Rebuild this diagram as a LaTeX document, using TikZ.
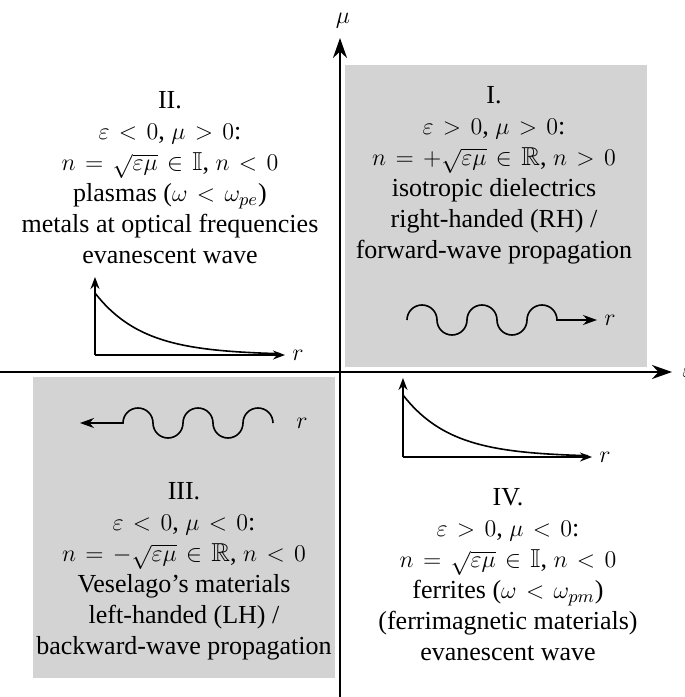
\documentclass[tikz,border=0pt]{standalone}
\usepackage{amsmath,amssymb}
\usepackage{fontspec}
\setmainfont{Liberation Serif}
\usepackage{xcolor}
\usetikzlibrary{arrows.meta}
\definecolor{Shade}{HTML}{D3D3D3}

\begin{document}
\begin{tikzpicture}[x=0.5pt,y=0.5pt,
  quadtext/.style={align=center,font=\fontsize{13}{15.5}\selectfont,inner sep=0pt},
  mainaxis/.style={-{Stealth[length=10pt,width=7pt]},line width=1.3pt},
  smallaxis/.style={-{Stealth[length=6pt,width=4.5pt]},line width=0.8pt},
  wave/.style={line width=0.8pt}]
  \thickmuskip=7mu plus 3mu\medmuskip=5mu plus 2mu
  \useasboundingbox (-340,-325) rectangle (345,372);
  % shaded quadrants I and III
  \fill[Shade] (5,5) rectangle (307,307);
  \fill[Shade] (-307,-5) rectangle (-5,-306);
  % main axes
  \coordinate (west) at (-340,0);
  \coordinate (east) at (332,0);
  \coordinate (south) at (0,-325);
  \coordinate (north) at (0,334);
  \draw[mainaxis] (west) -- (east);
  \draw[mainaxis] (south) -- (north);
  \node[quadtext,anchor=south] (mu) at (3,343) {$\mu$};
  \node[quadtext,anchor=west] (eps) at (342,0) {$\varepsilon$};
  % quadrant texts
  \node[quadtext] (qI) at (154,197) {I.\\
    $\varepsilon>0$, $\mu>0$:\\
    $n=+\sqrt{\varepsilon\mu}\in\mathbb{R}$, $n>0$\\
    isotropic dielectrics\\
    right-handed (RH) /\\
    forward-wave propagation};
  \node[quadtext] (qII) at (-170,194) {II.\\
    $\varepsilon<0$, $\mu>0$:\\
    $n=\sqrt{\varepsilon\mu}\in\mathbb{I}$, $n<0$\\
    plasmas ($\omega<\omega_{pe}$)\\
    metals at optical frequencies\\
    evanescent wave};
  \node[quadtext] (qIII) at (-156,-199) {III.\\
    $\varepsilon<0$, $\mu<0$:\\
    $n=-\sqrt{\varepsilon\mu}\in\mathbb{R}$, $n<0$\\
    Veselago's materials\\
    left-handed (LH) /\\
    backward-wave propagation};
  \node[quadtext] (qIV) at (168,-203) {IV.\\
    $\varepsilon>0$, $\mu<0$:\\
    $n=\sqrt{\varepsilon\mu}\in\mathbb{I}$, $n<0$\\
    ferrites ($\omega<\omega_{pm}$)\\
    (ferrimagnetic materials)\\
    evanescent wave};
  % forward wave (I)
  \draw[wave,-{Stealth[length=7pt,width=5pt]}] (67,52)
    arc[start angle=180,end angle=0,radius=15]
    arc[start angle=180,end angle=360,radius=15]
    arc[start angle=180,end angle=0,radius=15]
    arc[start angle=180,end angle=360,radius=15]
    arc[start angle=180,end angle=0,radius=15] -- (257,52);
  \node[quadtext,anchor=west] (rI) at (264,52) {$r$};
  % backward wave (III)
  \draw[wave,{Stealth[length=7pt,width=5pt]}-] (-260,-51) -- (-217,-51)
    arc[start angle=180,end angle=0,radius=15]
    arc[start angle=180,end angle=360,radius=15]
    arc[start angle=180,end angle=0,radius=15]
    arc[start angle=180,end angle=360,radius=15]
    arc[start angle=180,end angle=0,radius=15];
  \node[quadtext,anchor=west] (rIII) at (-44,-51) {$r$};
  % evanescent wave (II)
  \draw[smallaxis] (-245,17) -- (-245,95);
  \draw[smallaxis] (-245,17) -- (-55,17);
  \draw[wave] plot[domain=0:185,samples=60] ({-245+\x},{17+62*exp(-\x/48)});
  \node[quadtext,anchor=west] (rII) at (-48,17) {$r$};
  % evanescent wave (IV)
  \draw[smallaxis] (63,-85) -- (63,-6);
  \draw[smallaxis] (63,-85) -- (252,-85);
  \draw[wave] plot[domain=0:185,samples=60] ({63+\x},{-85+62*exp(-\x/48)});
  \node[quadtext,anchor=west] (rIV) at (259,-85) {$r$};
\end{tikzpicture}
\end{document}
